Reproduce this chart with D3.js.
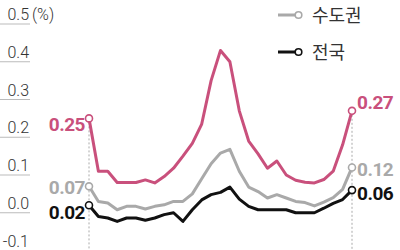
<!DOCTYPE html>
<html>
<head>
<meta charset="utf-8">
<script src="https://cdn.jsdelivr.net/npm/d3@7/dist/d3.min.js"></script>
<style>
  html, body { margin: 0; padding: 0; background: #fff; }
  svg { display: block; }
</style>
</head>
<body>
<svg id="chart" width="400" height="250"></svg>
<script>
// ---- data ----
const periods = [1,2,3,4,5,6,7,8,9,10,11,12,13,14,15,16,17,18,19,20,21,22,23,24,25,26,27,28,29];
const pinkValues = [0.25,0.11,0.11,0.08,0.08,0.08,0.087,0.079,0.096,0.118,0.15,0.184,0.235,0.35,0.43,0.40,0.27,0.19,0.156,0.118,0.137,0.10,0.086,0.081,0.079,0.088,0.11,0.18,0.27];
const capitalValues = [0.07,0.03,0.026,0.008,0.017,0.017,0.01,0.017,0.021,0.03,0.03,0.05,0.09,0.13,0.158,0.168,0.11,0.068,0.056,0.039,0.048,0.039,0.03,0.027,0.018,0.028,0.04,0.062,0.12];
const nationValues = [0.02,-0.01,-0.014,-0.023,-0.014,-0.014,-0.02,-0.014,-0.005,0.0,-0.023,0.008,0.034,0.048,0.054,0.068,0.036,0.017,0.008,0.008,0.008,0.008,0.0,0.0,0.0,0.012,0.025,0.035,0.06];
const yTicks = [0.5,0.4,0.3,0.2,0.1,0.0,-0.1];
const yTickLabels = ["0.5","0.4","0.3","0.2","0.1","0.0","-0.1"];
const legendNames = ["수도권","전국"];
const unitLabel = "(%)";

// ---- layout ----
const svg = d3.select("#chart");
const x = d3.scaleLinear().domain([periods[0], periods[periods.length-1]]).range([89, 352]);
const y = d3.scaleLinear().domain([-0.1, 0.5]).range([250.5, 24]);

const colors = { pink: "#c9507c", gray: "#a9a9a9", black: "#111111" };
const font = "Roboto, 'Noto Sans', 'Liberation Sans', sans-serif";
const krFont = "'Noto Sans CJK KR', 'Noto Sans', sans-serif";

// y tick underline grid + labels
const ticks = svg.append("g");
yTicks.forEach((t, i) => {
  ticks.append("line")
    .attr("x1", 0).attr("x2", 30)
    .attr("y1", y(t)).attr("y2", y(t))
    .attr("stroke", "#bbbbbb").attr("stroke-width", 1);
  ticks.append("text")
    .attr("x", 29).attr("y", y(t) - 4)
    .attr("text-anchor", "end")
    .attr("font-family", font).attr("font-weight", 300)
    .attr("font-size", 16).attr("fill", "#333")
    .text(yTickLabels[i]);
});
ticks.append("text")
  .attr("x", 32).attr("y", y(0.5) - 4)
  .attr("font-family", font).attr("font-weight", 300)
  .attr("font-size", 16).attr("fill", "#333")
  .text(unitLabel);

// dashed verticals at first/last point
[periods[0], periods[periods.length-1]].forEach((p, i) => {
  const topVal = i === 0 ? pinkValues[0] : pinkValues[pinkValues.length-1];
  svg.append("line")
    .attr("x1", x(p)).attr("x2", x(p))
    .attr("y1", y(topVal) + 4).attr("y2", 250)
    .attr("stroke", "#aaaaaa").attr("stroke-width", 1)
    .attr("stroke-dasharray", "2,2");
});

// lines
const line = d3.line().x((d, i) => x(periods[i])).y(d => y(d)).curve(d3.curveLinear);
const seriesList = [
  { values: pinkValues, color: colors.pink, width: 3 },
  { values: capitalValues, color: colors.gray, width: 3 },
  { values: nationValues, color: colors.black, width: 3 }
];
seriesList.forEach(s => {
  svg.append("path")
    .datum(s.values)
    .attr("d", line)
    .attr("fill", "none")
    .attr("stroke", s.color)
    .attr("stroke-width", s.width)
    .attr("stroke-linejoin", "round");
});
seriesList.forEach(s => {
  [0, s.values.length - 1].forEach(i => {
    svg.append("circle")
      .attr("cx", x(periods[i])).attr("cy", y(s.values[i]))
      .attr("r", 3.5)
      .attr("fill", "#fff").attr("stroke", s.color).attr("stroke-width", 1.6);
  });
});

// value labels
function label(txt, xx, yy, anchor, color) {
  svg.append("text")
    .attr("x", xx).attr("y", yy)
    .attr("text-anchor", anchor)
    .attr("font-family", font).attr("font-weight", 700)
    .attr("font-size", 19).attr("fill", color)
    .attr("letter-spacing", -0.5)
    .text(txt);
}
const first = 0, last = periods.length - 1;
label(pinkValues[first].toFixed(2), x(periods[first]) - 4, y(pinkValues[first]) + 13, "end", colors.pink);
label(capitalValues[first].toFixed(2), x(periods[first]) - 4, y(capitalValues[first]) + 8, "end", "#a9a9a9");
label(nationValues[first].toFixed(2), x(periods[first]) - 4, y(nationValues[first]) + 14, "end", colors.black);
label(pinkValues[last].toFixed(2), x(periods[last]) + 5, y(pinkValues[last]) - 2, "start", colors.pink);
label(capitalValues[last].toFixed(2), x(periods[last]) + 5, y(capitalValues[last]) + 9, "start", "#a9a9a9");
label(nationValues[last].toFixed(2), x(periods[last]) + 5, y(nationValues[last]) + 10, "start", colors.black);

// legend
const legend = [
  { name: legendNames[0], color: colors.gray, yy: 15 },
  { name: legendNames[1], color: colors.black, yy: 52 }
];
legend.forEach(l => {
  svg.append("line")
    .attr("x1", 278).attr("x2", 295)
    .attr("y1", l.yy).attr("y2", l.yy)
    .attr("stroke", l.color).attr("stroke-width", 3);
  svg.append("circle")
    .attr("cx", 298.5).attr("cy", l.yy).attr("r", 3.3)
    .attr("fill", "#fff").attr("stroke", l.color).attr("stroke-width", 1.6);
  svg.append("text")
    .attr("x", 312).attr("y", l.yy + 7)
    .attr("font-family", krFont).attr("font-size", 18)
    .attr("fill", "#333")
    .text(l.name);
});
</script>
</body>
</html>
